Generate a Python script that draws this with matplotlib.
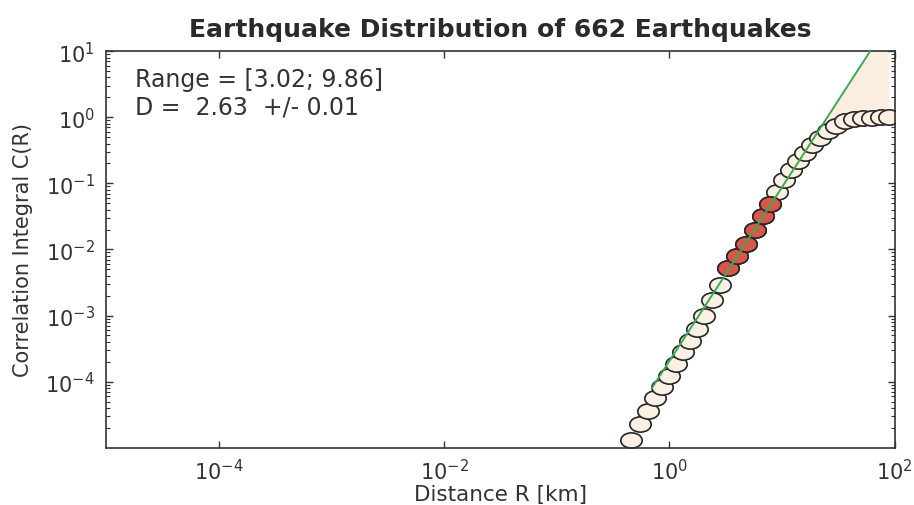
import matplotlib
matplotlib.use("Agg")
import matplotlib.pyplot as plt
from matplotlib.markers import MarkerStyle
from matplotlib.transforms import Affine2D
from matplotlib.ticker import LogLocator, NullLocator, NullFormatter
import numpy as np

plt.rcParams['font.family'] = ['DejaVu Sans']
plt.rcParams['mathtext.default'] = 'regular'

# correlation integral
R = [0.452, 0.543, 0.639, 0.752, 0.867, 1.0, 1.153, 1.33, 1.534, 1.769,
     2.04, 2.40, 2.83, 3.33, 4.00, 4.80, 5.77, 6.79, 7.83, 9.03,
     10.4, 12.0, 13.9, 16.0, 18.4, 21.7, 25.5, 30.1, 36.1, 43.4,
     52.1, 62.5, 75.2, 88.5]
C = [1.32e-5, 2.31e-5, 3.64e-5, 5.73e-5, 8.40e-5, 1.23e-4, 1.87e-4, 2.85e-4, 4.18e-4, 6.35e-4,
     1.0e-3, 1.75e-3, 2.95e-3, 5.33e-3, 7.83e-3, 1.19e-2, 1.94e-2, 3.16e-2, 4.81e-2, 7.31e-2,
     0.111, 0.157, 0.216, 0.285, 0.377, 0.481, 0.614, 0.731, 0.870, 0.95,
     0.98, 0.99, 1.0, 1.0]
fit_idx = [13, 14, 15, 16, 17, 18]   # points inside the fitted range

D = 2.63
A = 2.06e-4          # intercept of the fitted power law
fit_R = [0.70, 100.0]

R = np.array(R)
C = np.array(C)
fit_C = A * np.array(fit_R) ** D
C_line = A * R ** D

fig, ax = plt.subplots(figsize=(9.14, 5.06), dpi=100)
fig.subplots_adjust(left=0.116, right=0.979, bottom=0.113, top=0.897)

tail = R >= 7.83
ax.fill_between(R[tail], C[tail], C_line[tail], color='#fbeee0', lw=0, zorder=1)

m = MarkerStyle('o', transform=Affine2D().scale(1.4, 1.0))
ax.plot(R, C, ls='none', marker=m, ms=11, mfc='#fbf0e4', mec='#262626', mew=1.2, zorder=2)
ax.plot(R[fit_idx], C[fit_idx], ls='none', marker=m, ms=11, mfc='#d9574a', mec='#262626',
        mew=1.2, zorder=3)
ax.plot(fit_R, fit_C, color='#3aaa55', lw=1.4, zorder=4)

ax.set_xscale('log')
ax.set_yscale('log')
ax.set_xlim(1e-5, 1e2)
ax.set_ylim(1e-5, 1e1)

ax.set_xticks([1e-4, 1e-2, 1e0, 1e2])
ax.xaxis.set_minor_locator(NullLocator())
ax.set_yticks([1e-4, 1e-3, 1e-2, 1e-1, 1e0, 1e1])
ax.yaxis.set_minor_locator(LogLocator(base=10, subs=np.arange(2, 10), numticks=20))
ax.yaxis.set_minor_formatter(NullFormatter())

ax.tick_params(which='both', direction='in', top=True, right=True, colors='#333333',
               labelsize=15)
ax.tick_params(which='major', length=5, width=1.0)
ax.tick_params(which='minor', length=3, width=0.8)
ax.tick_params(axis='x', pad=7)
ax.tick_params(axis='y', pad=8)
for s in ax.spines.values():
    s.set_color('#333333')
    s.set_linewidth(1.2)

ax.set_title('Earthquake Distribution of 662 Earthquakes', fontsize=18, fontweight='bold',
             color='#2a2a2a', pad=11)
ax.set_xlabel('Distance R [km]', fontsize=15.5, color='#333333', labelpad=1)
ax.set_ylabel('Correlation Integral C(R)', fontsize=15, color='#333333', labelpad=9)

ax.text(0.037, 0.912, 'Range = [3.02; 9.86]', transform=ax.transAxes, fontsize=17,
        color='#333333', va='baseline')
ax.text(0.037, 0.844, 'D =  2.63  +/- 0.01', transform=ax.transAxes, fontsize=17,
        color='#333333', va='baseline')

plt.savefig('out.png', dpi=100)
